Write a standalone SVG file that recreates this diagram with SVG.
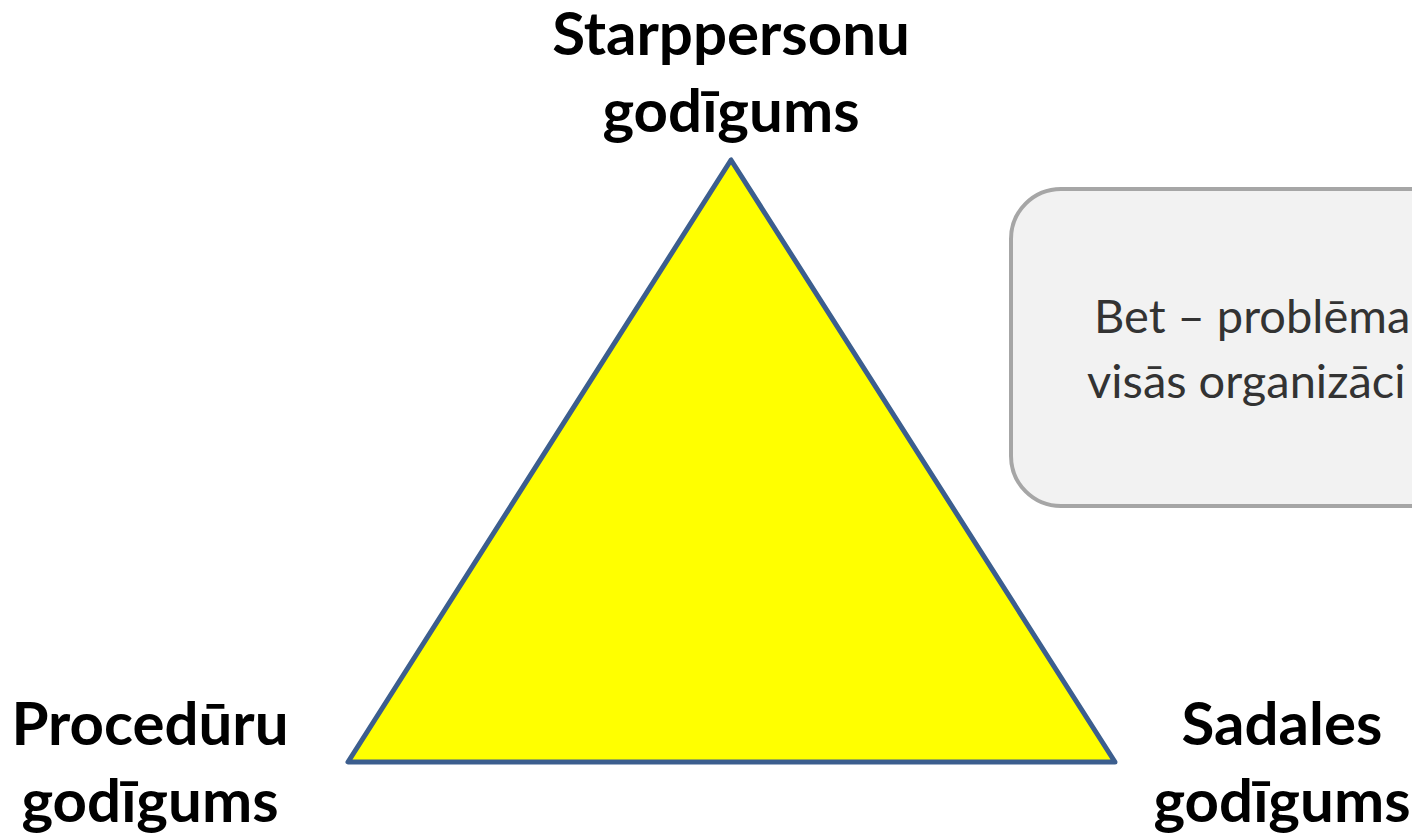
<svg xmlns="http://www.w3.org/2000/svg" width="1412" height="834" viewBox="0 0 1412 834">
<style>
.lbl{font-family:Lato,"Liberation Sans",sans-serif;font-weight:bold;font-size:60px;fill:#000;text-anchor:middle}
.box{font-family:Lato,"Open Sans",sans-serif;font-size:47px;fill:#333}
</style>
<rect width="1412" height="834" fill="#fff"/>
<g id="triangle">
<polygon points="731,160 348,762 1115,762" fill="#FFFF00" stroke="#3C5E8E" stroke-width="5" stroke-linejoin="round"/>
</g>
<g id="top-label">
<text class="lbl" x="731" y="55">Starppersonu</text>
<text class="lbl" x="731" y="132">godīgums</text>
</g>
<g id="left-label">
<text class="lbl" x="150" y="745">Procedūru</text>
<text class="lbl" x="150" y="822">godīgums</text>
</g>
<g id="right-label">
<text class="lbl" x="1282" y="745">Sadales</text>
<text class="lbl" x="1282" y="822">godīgums</text>
</g>
<g id="note">
<rect x="1011" y="189" width="600" height="317" rx="50" ry="50" fill="#F2F2F2" stroke="#A6A6A6" stroke-width="4"/>
<text class="box" x="1094" y="333">Bet – problēma</text>
<text class="box" x="1087" y="398">visās organizāci</text>
</g>
</svg>
